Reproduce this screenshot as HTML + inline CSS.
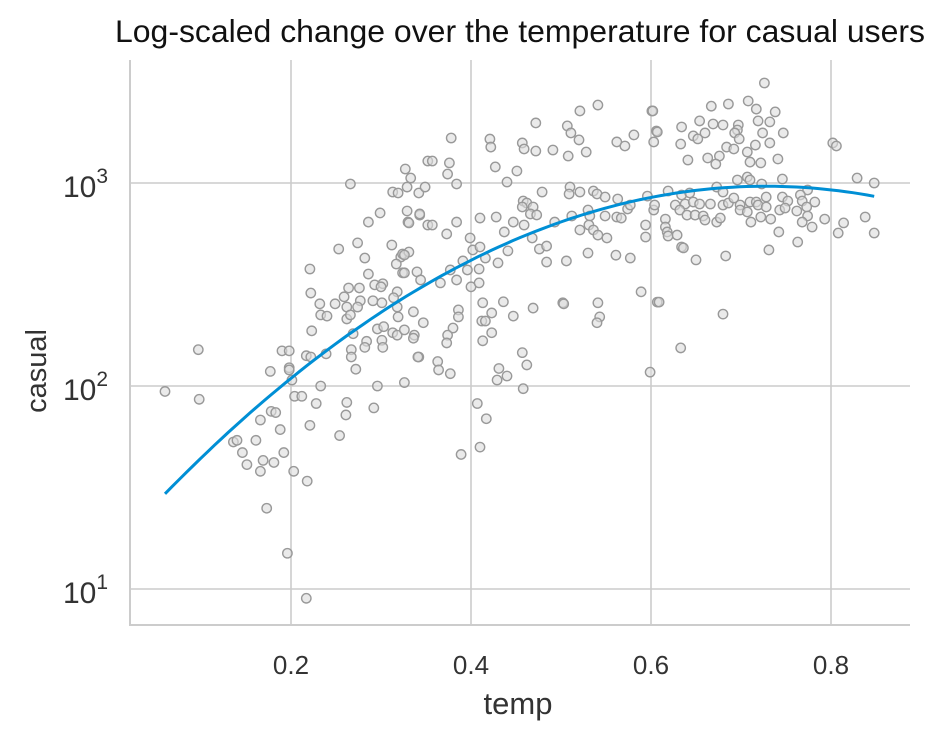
<!DOCTYPE html>
<html><head><meta charset="utf-8">
<style>
html,body{margin:0;padding:0;background:#fff;}
svg{display:block;font-family:"Liberation Sans",Arial,sans-serif;}
</style></head>
<body>
<svg id="chart" width="944" height="737" viewBox="0 0 944 737">
<text x="520" y="42" text-anchor="middle" font-size="31.5" fill="#111" textLength="810" lengthAdjust="spacingAndGlyphs">Log-scaled change over the temperature for casual users</text>
<g id="grid"></g>
<g id="points"></g>
<g id="fit"></g>
<g id="axes"></g>
<text x="518" y="714" text-anchor="middle" font-size="31" fill="#333">temp</text>
<text transform="translate(46,371) rotate(-90)" text-anchor="middle" font-size="29" fill="#333">casual</text>
</svg>
<script>
const xTicks = [0.2, 0.4, 0.6, 0.8];
const xTickLabels = ["0.2", "0.4", "0.6", "0.8"];
const yTicks = [10, 100, 1000];
const yTickExps = ["1", "2", "3"];
const temps = [
.266,.327,.333,.313,.319,.329,.342,.349,.352,.299,.286,.329,.330,.343,.352,.253,.274,.282,.312,.322,.324,.331,.317,.221,.286,.324,.340,.344,.222,.264,.276,.259,.293,.302,.300,.318,.232,.249,.277,.291,.301,.314,.262,.274,.318,.233,.240,.262,.266,.319,.336,.347,.223,.269,.296,.303,.313,.318,.326,.337,.336,.284,.282,.301,.302,.190,.198,.217,.222,.239,.267,.267,.342,.198,.198,.177,.272,.201,.060,.097,.098,.233,.296,.326,.204,.212,.228,.262,.261,.292,.178,.183,.166,.188,.221,.254,.136,.140,.161,.146,.192,.151,.169,.181,.166,.203,.218,.173,.196,.217,
.378,.421,.422,.472,.457,.459,.472,.491,.507,.511,.508,.520,.521,.528,.541,.562,.571,.581,.601,.606,.603,.357,.376,.374,.384,.427,.440,.451,.510,.509,.521,.479,.536,.540,.549,.563,.596,.458,.462,.469,.457,.466,.473,.459,.447,.437,.428,.410,.343,.331,.357,.384,.373,.399,.402,.410,.416,.391,.396,.409,.377,.384,.366,.400,.409,.441,.430,.468,.476,.484,.484,.506,.493,.512,.521,.530,.532,.531,.536,.541,.551,.549,.562,.567,.574,.577,.530,.561,.577,.594,.594,.603,.589,.607,.326,.326,.386,.386,.380,.374,.373,.413,.436,.423,.412,.416,.423,.413,.447,.469,.502,.503,.541,.543,.540,.341,.363,.364,.377,.431,.429,.440,.457,.462,.458,.407,.417,.410,.389,.599,
.726,.602,.667,.686,.708,.717,.738,.719,.732,.654,.669,.680,.697,.634,.607,.696,.693,.660,.647,.652,.633,.698,.724,.747,.716,.732,.684,.692,.707,.802,.806,.676,.663,.641,.672,.710,.722,.741,.696,.707,.710,.746,.723,.673,.829,.848,.619,.634,.643,.680,.774,.766,.728,.746,.627,.638,.647,.654,.666,.680,.686,.692,.699,.710,.717,.719,.728,.752,.782,.768,.604,.632,.640,.649,.658,.660,.673,.677,.699,.707,.711,.722,.733,.743,.749,.762,.773,.774,.768,.779,.793,.616,.616,.618,.619,.629,.634,.636,.742,.763,.731,.814,.808,.838,.848,.650,.683,.609,.680,.633
];
const casuals = [
989,1172,1058,903,893,955,893,955,1283,712,642,728,642,695,621,473,507,427,495,432,447,457,399,377,356,361,365,333,287,304,304,275,315,319,308,291,254,254,263,263,257,272,245,245,245,224,221,214,224,219,232,205,187,181,191,196,183,178,189,178,172,166,155,168,155,149,149,141,139,144,151,139,139,123,120,118,121,107,94,151,86,100,100,104,89,89,82,83,72,78,75,74,68,61,64,57,53,54,54,47,47,41,43,42,38,38,34,25,15,9,
1666,1646,1503,1976,1575,1471,1437,1454,1911,1764,1358,1630,2264,1421,2421,1593,1522,1725,2264,1804,1593,1283,1256,1107,989,1200,1011,1146,955,883,903,903,913,883,853,834,862,815,797,762,762,704,696,621,642,574,680,672,704,636,621,642,561,536,468,484,427,413,373,377,373,333,322,308,322,463,404,536,473,489,408,413,642,688,587,736,688,621,587,554,536,688,680,672,745,779,452,441,427,621,542,736,291,259,442,361,237,219,193,178,163,257,260,229,209,209,183,167,221,242,257,254,257,219,205,139,132,120,115,122,107,112,146,127,97,82,69,50,46,117,
3109,2264,2390,2450,2535,2313,2240,2022,2000,2022,1953,1931,1931,1888,1784,1824,1764,1764,1706,1649,1556,1649,1764,1764,1538,1575,1503,1471,1421,1575,1522,1358,1328,1298,1240,1268,1256,1313,1035,1070,1035,1046,989,955,1058,1000,913,873,893,903,924,873,853,853,779,788,806,788,788,779,797,843,779,806,806,779,762,815,806,815,779,736,695,695,688,657,642,672,736,720,642,680,664,736,753,728,762,688,642,607,664,664,607,574,548,554,484,479,574,512,468,636,567,680,567,418,437,259,226,154
];

const NS = "http://www.w3.org/2000/svg";
const X0 = 130, X1 = 910, Y0 = 60, Y1 = 625;
const xScale = t => 111 + 900 * t;
const yScale = c => 183 + (3 - Math.log10(c)) * 203;
function mk(tag, attrs, parent) {
  const e = document.createElementNS(NS, tag);
  for (const k in attrs) e.setAttribute(k, attrs[k]);
  parent.appendChild(e);
  return e;
}
const grid = document.getElementById('grid');
const axes = document.getElementById('axes');
xTicks.forEach((v, i) => {
  const x = xScale(v);
  const g = mk('line', {x1: x, x2: x, y1: Y0, y2: Y1, stroke: '#cccccc', 'stroke-width': 1.6}, grid);
  
  
  const t = mk('text', {x: x, y: 674, 'text-anchor': 'middle', 'font-size': 26, fill: '#333'}, axes);
  t.textContent = xTickLabels[i];
  
  
});
yTicks.forEach((v, i) => {
  const y = yScale(v);
  const g = mk('line', {x1: X0, x2: X1, y1: y, y2: y, stroke: '#cccccc', 'stroke-width': 1.6}, grid);
  
  
  const t = mk('text', {x: 108, y: y + 14, 'text-anchor': 'end', 'font-size': 30, fill: '#333'}, axes);
  
  
  const base = mk('tspan', {}, t); base.textContent = '10';
  const sup = mk('tspan', {dy: -14, 'font-size': 21}, t); sup.textContent = yTickExps[i];
});
const sl = mk('line', {x1: X0, x2: X0, y1: Y0, y2: Y1 + 1, stroke: '#cccccc', 'stroke-width': 2}, axes);


const sb = mk('line', {x1: X0 - 1, x2: X1, y1: Y1, y2: Y1, stroke: '#cccccc', 'stroke-width': 2}, axes);



const pts = document.getElementById('points');
temps.forEach((t, i) => {
  const c = mk('circle', {cx: xScale(t), cy: yScale(casuals[i]), r: 4.7, fill: '#dcdcdc', 'fill-opacity': 0.6, stroke: '#999', 'stroke-width': 1.4}, pts);
  
  
});

// quadratic least squares fit of log10(casual) on temp
(function () {
  const n = temps.length;
  let S = [0,0,0,0,0], T = [0,0,0];
  for (let i = 0; i < n; i++) {
    const x = temps[i], y = Math.log10(casuals[i]);
    for (let k = 0; k < 5; k++) S[k] += Math.pow(x, k);
    for (let k = 0; k < 3; k++) T[k] += y * Math.pow(x, k);
  }
  const A = [[S[0],S[1],S[2],T[0]],[S[1],S[2],S[3],T[1]],[S[2],S[3],S[4],T[2]]];
  for (let i = 0; i < 3; i++) {
    for (let j = i + 1; j < 3; j++) {
      const f = A[j][i] / A[i][i];
      for (let k = i; k < 4; k++) A[j][k] -= f * A[i][k];
    }
  }
  const b = [0,0,0];
  for (let i = 2; i >= 0; i--) {
    let s = A[i][3];
    for (let k = i + 1; k < 3; k++) s -= A[i][k] * b[k];
    b[i] = s / A[i][i];
  }
  const tmin = Math.min(...temps), tmax = Math.max(...temps);
  let d = '';
  for (let s = 0; s <= 100; s++) {
    const t = tmin + (tmax - tmin) * s / 100;
    const L = b[0] + b[1] * t + b[2] * t * t;
    d += (s ? 'L' : 'M') + xScale(t).toFixed(1) + ',' + yScale(Math.pow(10, L)).toFixed(1);
  }
  const p = mk('path', {d: d, fill: 'none', stroke: '#008fd5', 'stroke-width': 3}, document.getElementById('fit'));
  
  
})();
</script>
</body></html>
